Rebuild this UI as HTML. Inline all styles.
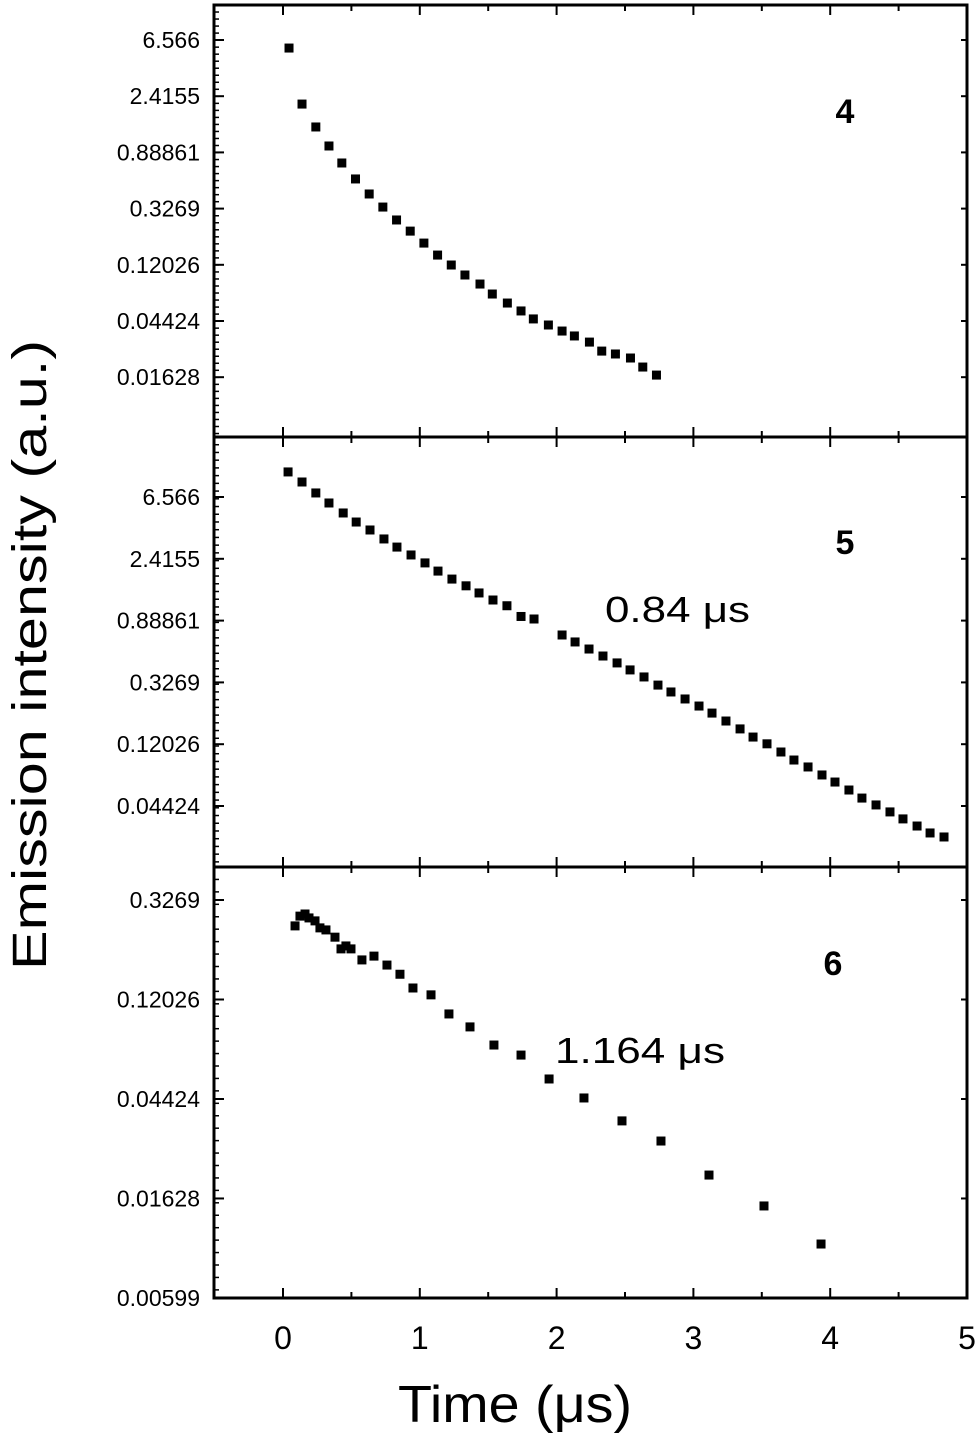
<!DOCTYPE html>
<html><head><meta charset="utf-8"><style>
body{margin:0;background:#fff}
svg{display:block;font-family:"Liberation Sans",sans-serif}
</style></head><body>
<svg id="chart" width="980" height="1434" viewBox="0 0 980 1434" xmlns="http://www.w3.org/2000/svg">
<g id="axes"></g>
<g id="marks"></g>
<text x="845" y="123" font-size="34" font-weight="bold" text-anchor="middle">4</text>
<text x="845" y="554" font-size="34" font-weight="bold" text-anchor="middle">5</text>
<text x="833" y="975" font-size="34" font-weight="bold" text-anchor="middle">6</text>
<text x="605" y="622" font-size="36" textLength="145" lengthAdjust="spacingAndGlyphs">0.84 μs</text>
<text x="555" y="1063" font-size="36" textLength="170" lengthAdjust="spacingAndGlyphs">1.164 μs</text>
<text transform="translate(46,655) rotate(-90)" font-size="48" text-anchor="middle" textLength="630" lengthAdjust="spacingAndGlyphs">Emission intensity (a.u.)</text>
<text x="515" y="1422" font-size="52" text-anchor="middle" textLength="234" lengthAdjust="spacingAndGlyphs">Time (μs)</text>
</svg>
<script>
const xTicks=[0,1,2,3,4,5];
const p1Ticks=["6.566","2.4155","0.88861","0.3269","0.12026","0.04424","0.01628"];
const p2Ticks=["6.566","2.4155","0.88861","0.3269","0.12026","0.04424"];
const p3Ticks=["0.3269","0.12026","0.04424","0.01628","0.00599"];
const t4=[0.044,0.139,0.24,0.336,0.43,0.53,0.63,0.73,0.83,0.93,1.03,1.13,1.23,1.33,1.44,1.53,1.64,1.74,1.83,1.94,2.04,2.13,2.24,2.33,2.43,2.54,2.63,2.73];
const v4=[5.69,2.10,1.397,0.996,0.736,0.554,0.424,0.336,0.267,0.219,0.177,0.143,0.1198,0.1003,0.0854,0.0715,0.0609,0.0529,0.0459,0.0412,0.0370,0.0339,0.0304,0.0259,0.0246,0.0229,0.0195,0.0169];
const t5=[0.037,0.139,0.24,0.336,0.44,0.535,0.636,0.738,0.833,0.936,1.038,1.133,1.235,1.338,1.433,1.535,1.637,1.74,1.835,2.04,2.135,2.237,2.339,2.442,2.537,2.639,2.741,2.836,2.939,3.041,3.136,3.238,3.341,3.436,3.538,3.64,3.735,3.838,3.94,4.035,4.137,4.232,4.335,4.437,4.532,4.635,4.73,4.832];
const v5=[9.85,8.37,7.01,5.96,5.07,4.38,3.85,3.33,2.92,2.57,2.26,1.98,1.74,1.56,1.39,1.24,1.13,0.95,0.912,0.704,0.629,0.561,0.501,0.448,0.400,0.357,0.313,0.280,0.250,0.223,0.199,0.175,0.154,0.135,0.121,0.106,0.0931,0.0832,0.0731,0.0652,0.0573,0.0503,0.0450,0.0402,0.0359,0.0320,0.0286,0.0268];
const t6=[0.088,0.124,0.161,0.19,0.234,0.27,0.314,0.38,0.424,0.46,0.497,0.577,0.665,0.76,0.855,0.95,1.082,1.213,1.367,1.542,1.74,1.945,2.2,2.478,2.763,3.114,3.516,3.933];
const v6=[0.252,0.278,0.284,0.273,0.265,0.247,0.242,0.225,0.200,0.206,0.200,0.179,0.186,0.170,0.155,0.135,0.126,0.104,0.0913,0.0761,0.0688,0.0541,0.0447,0.0355,0.0290,0.0206,0.0151,0.0103];

const NS="http://www.w3.org/2000/svg";
const L=214,R=967;
function xs(t){return 283+t*136.8;}
const panels=[
 {top:5,bot:437,ref:6.566,refY:40,step:56.2,ticks:p1Ticks,t:t4,v:v4,name:'panel-4'},
 {top:437,bot:867,ref:6.566,refY:497,step:61.8,ticks:p2Ticks,t:t5,v:v5,name:'panel-5'},
 {top:867,bot:1298,ref:0.3269,refY:900,step:99.5,ticks:p3Ticks,t:t6,v:v6,name:'panel-6'}];
function ys(p,v){return p.refY+(Math.log(p.ref)-Math.log(v))*p.step;}
const axes=document.getElementById('axes'),marks=document.getElementById('marks');
function mk(tag,attrs,parent){const e=document.createElementNS(NS,tag);for(const k in attrs)e.setAttribute(k,attrs[k]);parent.appendChild(e);return e;}
panels.forEach((p,pi)=>{
 const fr=mk('rect',{x:L,y:p.top,width:R-L,height:p.bot-p.top,fill:'none',stroke:'#000','stroke-width':3},axes);
 
 
 p.ticks.forEach(s=>{
  const y=ys(p,parseFloat(s));
  mk('line',{x1:L,x2:L+10,y1:y,y2:y,stroke:'#000','stroke-width':2},axes);
  mk('line',{x1:R,x2:R-6,y1:y,y2:y,stroke:'#000','stroke-width':2},axes);
  const tx=mk('text',{x:200,y:y+8,'font-size':23,'text-anchor':'end'},axes);
  tx.textContent=s;
  
  
 });
 for(let y=p.top+p.step/8;y<p.bot;y+=p.step/8){
  mk('line',{x1:L,x2:L+5,y1:y,y2:y,stroke:'#000','stroke-width':1.5},axes);
 }
 for(let t=-0.5;t<=5;t+=0.5){
  const x=xs(t),maj=Math.abs(t-Math.round(t))<1e-6;
  if(x<=L+2||x>=R-2)continue;
  const len=maj?10:6;
  mk('line',{x1:x,x2:x,y1:p.bot-len,y2:p.bot+(pi<2?len:0),stroke:'#000','stroke-width':2},axes);
  if(pi===0)mk('line',{x1:x,x2:x,y1:p.top,y2:p.top+len,stroke:'#000','stroke-width':2},axes);
 }
 p.t.forEach((t,i)=>{
  const r=mk('rect',{x:xs(t)-4.5,y:ys(p,p.v[i])-4.5,width:9,height:9,fill:'#000'},marks);
  
  
 });
});
xTicks.forEach(t=>{
 const tx=mk('text',{x:xs(t),y:1349,'font-size':32,'text-anchor':'middle'},axes);
 tx.textContent=t;
 
 
});
</script>
</body></html>
